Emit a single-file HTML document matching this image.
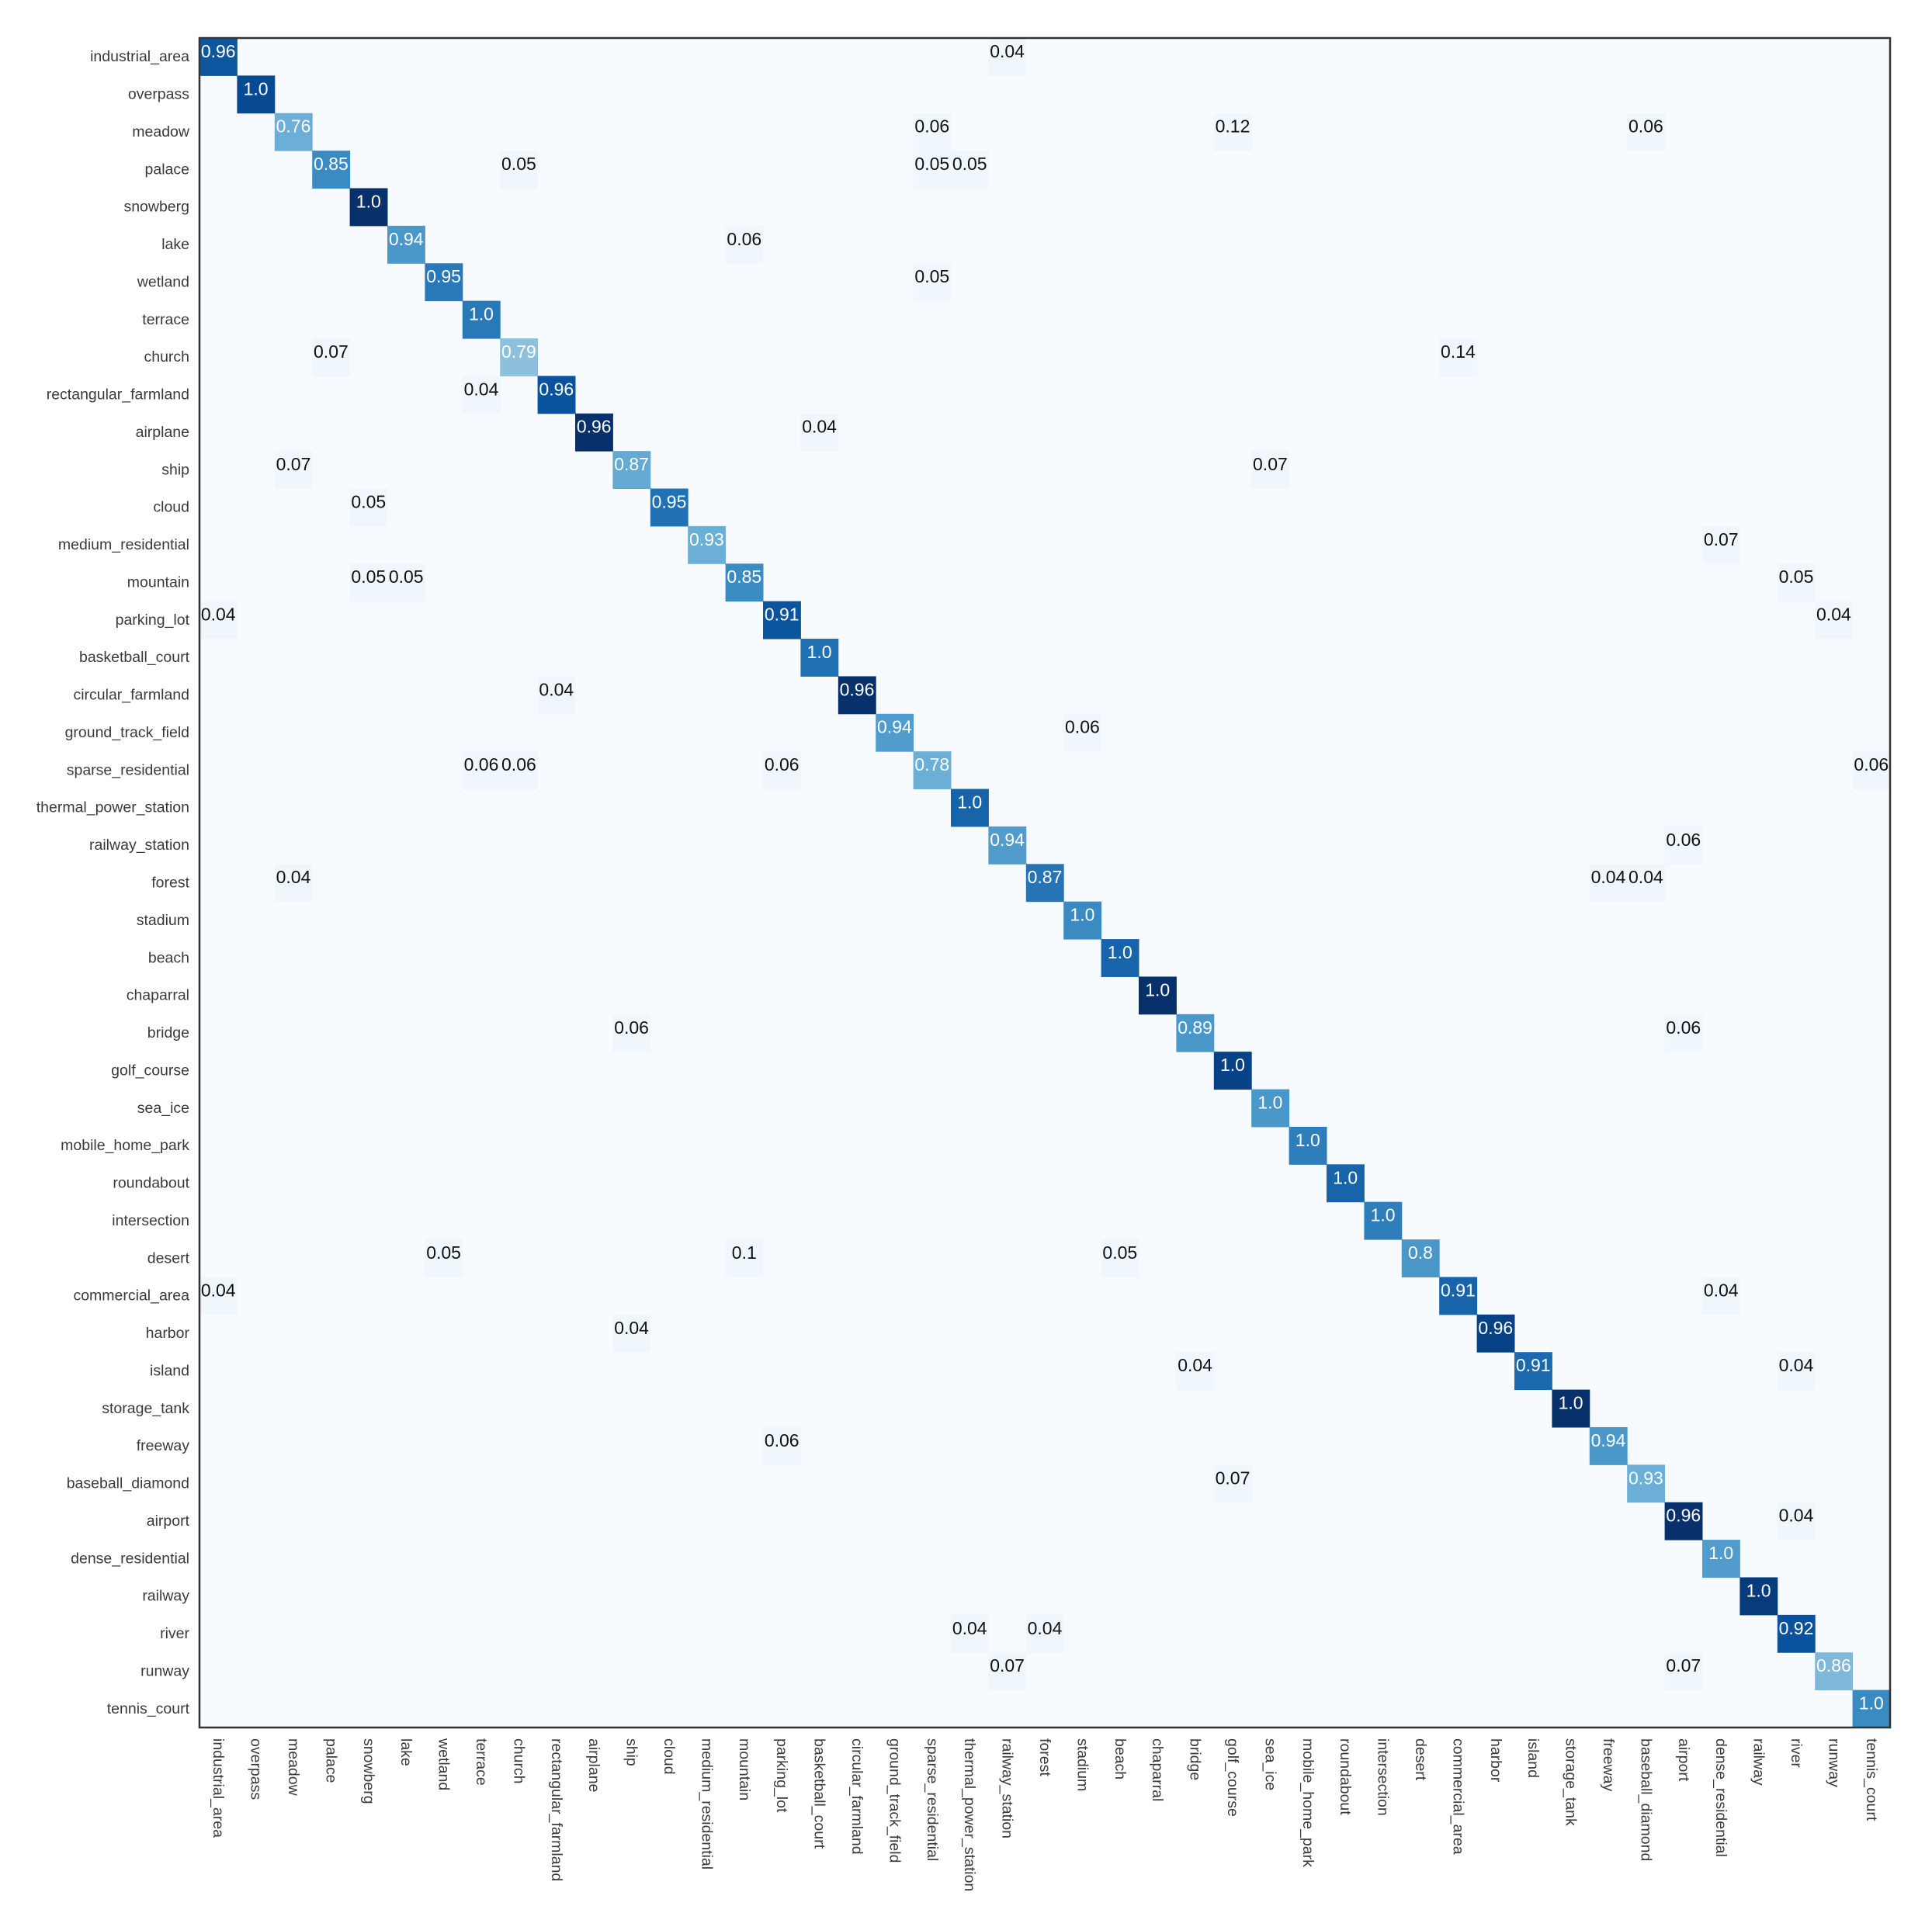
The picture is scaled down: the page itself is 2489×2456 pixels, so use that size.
<!DOCTYPE html>
<html><head><meta charset="utf-8"><style>html,body{margin:0;padding:0;background:#fff}svg{display:block}</style></head>
<body>
<svg id="chart" width="2489" height="2456" xmlns="http://www.w3.org/2000/svg" font-family="Liberation Sans, sans-serif"></svg>
<script>
const classes=["industrial_area","overpass","meadow","palace","snowberg","lake","wetland","terrace","church","rectangular_farmland","airplane","ship","cloud","medium_residential","mountain","parking_lot","basketball_court","circular_farmland","ground_track_field","sparse_residential","thermal_power_station","railway_station","forest","stadium","beach","chaparral","bridge","golf_course","sea_ice","mobile_home_park","roundabout","intersection","desert","commercial_area","harbor","island","storage_tank","freeway","baseball_diamond","airport","dense_residential","railway","river","runway","tennis_court"];
const diagLabels=["0.96","1.0","0.76","0.85","1.0","0.94","0.95","1.0","0.79","0.96","0.96","0.87","0.95","0.93","0.85","0.91","1.0","0.96","0.94","0.78","1.0","0.94","0.87","1.0","1.0","1.0","0.89","1.0","1.0","1.0","1.0","1.0","0.8","0.91","0.96","0.91","1.0","0.94","0.93","0.96","1.0","1.0","0.92","0.86","1.0"];
const diagShade=[0.85,0.9,0.5,0.65,1.0,0.6,0.72,0.72,0.42,0.87,1.0,0.52,0.75,0.5,0.65,0.86,0.75,1.0,0.58,0.5,0.8,0.58,0.74,0.65,0.8,1.0,0.6,0.93,0.6,0.7,0.8,0.7,0.6,0.8,0.93,0.78,1.0,0.6,0.5,1.0,0.58,0.96,0.87,0.45,0.65];
const offRows=[0,2,2,2,3,3,3,5,6,8,8,9,10,11,11,12,13,14,14,14,15,15,17,18,19,19,19,19,21,22,22,22,26,26,32,32,32,33,33,34,35,35,37,38,39,42,42,43,43];
const offCols=[21,19,27,38,8,19,20,14,19,3,33,7,16,2,28,4,40,4,5,42,0,43,9,23,7,8,15,44,39,2,37,38,11,39,6,14,24,0,40,11,26,42,15,27,42,20,22,21,39];
const offLabels=["0.04","0.06","0.12","0.06","0.05","0.05","0.05","0.06","0.05","0.07","0.14","0.04","0.04","0.07","0.07","0.05","0.07","0.05","0.05","0.05","0.04","0.04","0.04","0.06","0.06","0.06","0.06","0.06","0.06","0.04","0.04","0.04","0.06","0.06","0.05","0.1","0.05","0.04","0.04","0.04","0.04","0.04","0.06","0.07","0.04","0.04","0.04","0.07","0.07"];

const svg=document.getElementById('chart');
const NS='http://www.w3.org/2000/svg';
const X0=257,Y0=49,W=2178,H=2177,n=classes.length,cw=W/n,ch=H/n;
const xPos=j=>X0+j*cw, yPos=i=>Y0+i*ch;
const stops=[[0,[247,251,255]],[0.125,[222,235,247]],[0.25,[198,219,239]],[0.375,[158,202,225]],[0.5,[107,174,214]],[0.625,[66,146,198]],[0.75,[33,113,181]],[0.875,[8,81,156]],[1,[8,48,107]]];
function blues(t){t=Math.max(0,Math.min(1,t));for(let k=1;k<stops.length;k++){if(t<=stops[k][0]){const a=stops[k-1],b=stops[k],f=(t-a[0])/(b[0]-a[0]);return 'rgb('+a[1].map((v,m)=>Math.round(v+(b[1][m]-v)*f)).join(',')+')';}}return 'rgb(8,48,107)';}
function mk(tag,at){const e=document.createElementNS(NS,tag);for(const k in at)e.setAttribute(k,at[k]);svg.appendChild(e);return e;}

const bg=mk('rect',{x:X0,y:Y0,width:W,height:H,fill:'#f7fbff'});



function cell(i,j,shade,label,white){
  const r=mk('rect',{x:xPos(j),y:yPos(i),width:cw+0.5,height:ch+0.5,fill:blues(shade)});
  
  
  const t=mk('text',{x:xPos(j)+cw/2,y:yPos(i)+ch*0.35,'text-anchor':'middle','dominant-baseline':'central','font-size':23,fill:white?'#fff':'#111'});
  t.textContent=label;
  
  
}
for(let k=0;k<offRows.length;k++)cell(offRows[k],offCols[k],0.04,offLabels[k],false);
for(let i=0;i<n;i++)cell(i,i,diagShade[i],diagLabels[i],true);

const fr=mk('rect',{x:X0,y:Y0,width:W,height:H,fill:'none',stroke:'#333',"stroke-width":2.5});



for(let i=0;i<n;i++){
  const t=mk('text',{x:244,y:yPos(i)+ch/2,'text-anchor':'end','dominant-baseline':'central','font-size':19.5,fill:'#3a3a3a'});
  t.textContent=classes[i];
  
  
  const cx=xPos(i)+cw/2;
  const u=mk('text',{x:0,y:0,transform:'translate('+cx+',2240) rotate(90)','text-anchor':'start','dominant-baseline':'central','font-size':19.5,fill:'#3a3a3a'});
  u.textContent=classes[i];
  
  
}
</script>
</body></html>
